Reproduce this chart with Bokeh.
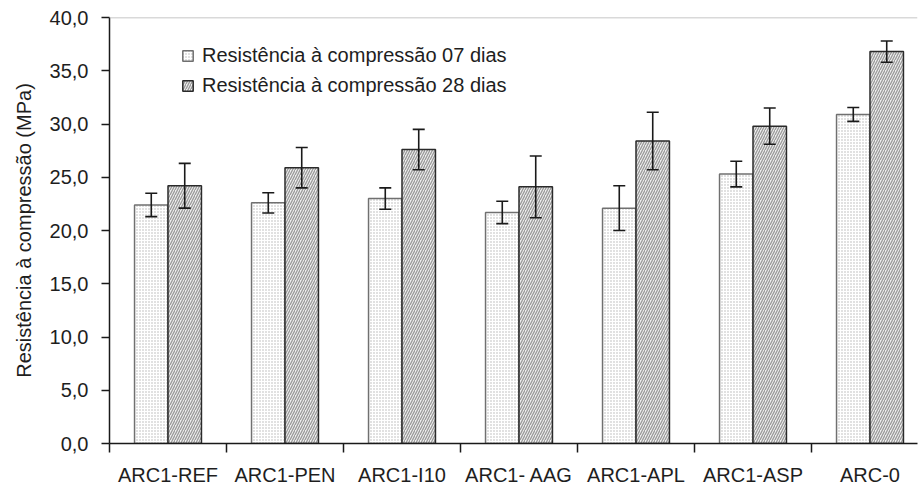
import numpy as np
from bokeh.plotting import figure
from bokeh.models import (ColumnDataSource, Range1d, FixedTicker, Whisker, TeeHead,
                          Span, Legend, LegendItem)
from bokeh.embed import file_html
from bokeh.resources import INLINE

# Compressive strength of concrete mixes (MPa), mean and standard deviation
categories = ["ARC1-REF", "ARC1-PEN", "ARC1-I10", "ARC1- AAG", "ARC1-APL", "ARC1-ASP", "ARC-0"]
mean_07 = [22.4, 22.6, 23.0, 21.7, 22.1, 25.3, 30.9]
sd_07 = [1.1, 0.95, 1.0, 1.05, 2.1, 1.2, 0.65]
mean_28 = [24.2, 25.9, 27.6, 24.1, 28.4, 29.8, 36.8]
sd_28 = [2.1, 1.9, 1.9, 2.9, 2.7, 1.7, 1.0]
series_labels = ["Resistência à compressão 07 dias", "Resistência à compressão 28 dias"]
y_ticks = [0, 5, 10, 15, 20, 25, 30, 35, 40]

FONT = "Liberation Sans"
TEXT = "#1e1e1e"
BAR_W = 0.286

idx = np.arange(len(categories)) + 0.5
src07 = ColumnDataSource(dict(x=idx - BAR_W / 2, top=mean_07,
                              lo=np.array(mean_07) - np.array(sd_07),
                              hi=np.array(mean_07) + np.array(sd_07)))
src28 = ColumnDataSource(dict(x=idx + BAR_W / 2, top=mean_28,
                              lo=np.array(mean_28) - np.array(sd_28),
                              hi=np.array(mean_28) + np.array(sd_28)))

p = figure(width=920, height=488, output_backend="svg", toolbar_location=None,
           x_range=Range1d(0, 6.906), y_range=Range1d(0, 40),
           min_border_left=109, min_border_right=3, min_border_top=17, min_border_bottom=44)
p.outline_line_color = None
p.grid.visible = False
p.background_fill_color = "white"

r07 = p.vbar(x="x", top="top", width=BAR_W, bottom=0, source=src07,
             fill_color="white", line_color="#707070", line_width=1.5,
             hatch_pattern="dot", hatch_scale=3, hatch_weight=1.1, hatch_color="#b4b4b4")
r28 = p.vbar(x="x", top="top", width=BAR_W, bottom=0, source=src28,
             fill_color="#efefef", line_color="#2a2a2a", line_width=1.5,
             hatch_pattern="right_diagonal_line", hatch_scale=5, hatch_weight=1.3,
             hatch_color="#9a9a9a")

for src in (src07, src28):
    w = Whisker(base="x", lower="lo", upper="hi", source=src, level="annotation",
                line_color="#1a1a1a", line_width=1.6,
                upper_head=TeeHead(size=12, line_color="#1a1a1a", line_width=1.6),
                lower_head=TeeHead(size=12, line_color="#1a1a1a", line_width=1.6))
    p.add_layout(w)

p.add_layout(Span(location=40, dimension="width", line_color="#b4b4b4", line_width=1.5))

# y axis
p.yaxis.ticker = FixedTicker(ticks=y_ticks)
p.yaxis.major_label_overrides = {t: f"{t:.1f}".replace(".", ",") for t in y_ticks}
p.yaxis.minor_tick_line_color = None
p.yaxis.major_tick_out = 8
p.yaxis.major_tick_in = 0
p.yaxis.major_label_standoff = 13
p.yaxis.axis_label = "Resistência à compressão (MPa)"
p.yaxis.axis_label_standoff = 12
p.yaxis.axis_label_text_font_style = "normal"

# x axis: labels at category centres, ticks on category boundaries
p.xaxis.ticker = FixedTicker(ticks=list(idx), minor_ticks=list(range(len(categories) + 1)))
p.xaxis.major_label_overrides = {float(c): n for c, n in zip(idx, categories)}
p.xaxis.major_tick_out = 0
p.xaxis.major_tick_in = 0
p.xaxis.minor_tick_out = 9
p.xaxis.minor_tick_in = 0
p.xaxis.minor_tick_line_color = "#1a1a1a"
p.xaxis.minor_tick_line_width = 1.5
p.xaxis.major_label_standoff = 11

for ax in (p.xaxis, p.yaxis):
    ax.axis_line_color = "#1a1a1a"
    ax.axis_line_width = 1.5
    ax.major_tick_line_color = "#1a1a1a"
    ax.major_tick_line_width = 1.5
    ax.major_label_text_font = FONT
    ax.major_label_text_font_size = "20px"
    ax.major_label_text_color = TEXT
    ax.axis_label_text_font = FONT
    ax.axis_label_text_font_size = "20px"
    ax.axis_label_text_color = TEXT

legend = Legend(items=[LegendItem(label=series_labels[0], renderers=[r07]),
                       LegendItem(label=series_labels[1], renderers=[r28])],
                location=(72, 346), orientation="vertical",
                glyph_width=13, glyph_height=13, label_standoff=8, spacing=7,
                padding=0, margin=0, border_line_color=None, background_fill_alpha=0,
                label_text_font=FONT, label_text_font_size="20px", label_text_color=TEXT,
                label_height=20)
p.add_layout(legend)

open("out.html", "w").write(file_html(p, INLINE))
